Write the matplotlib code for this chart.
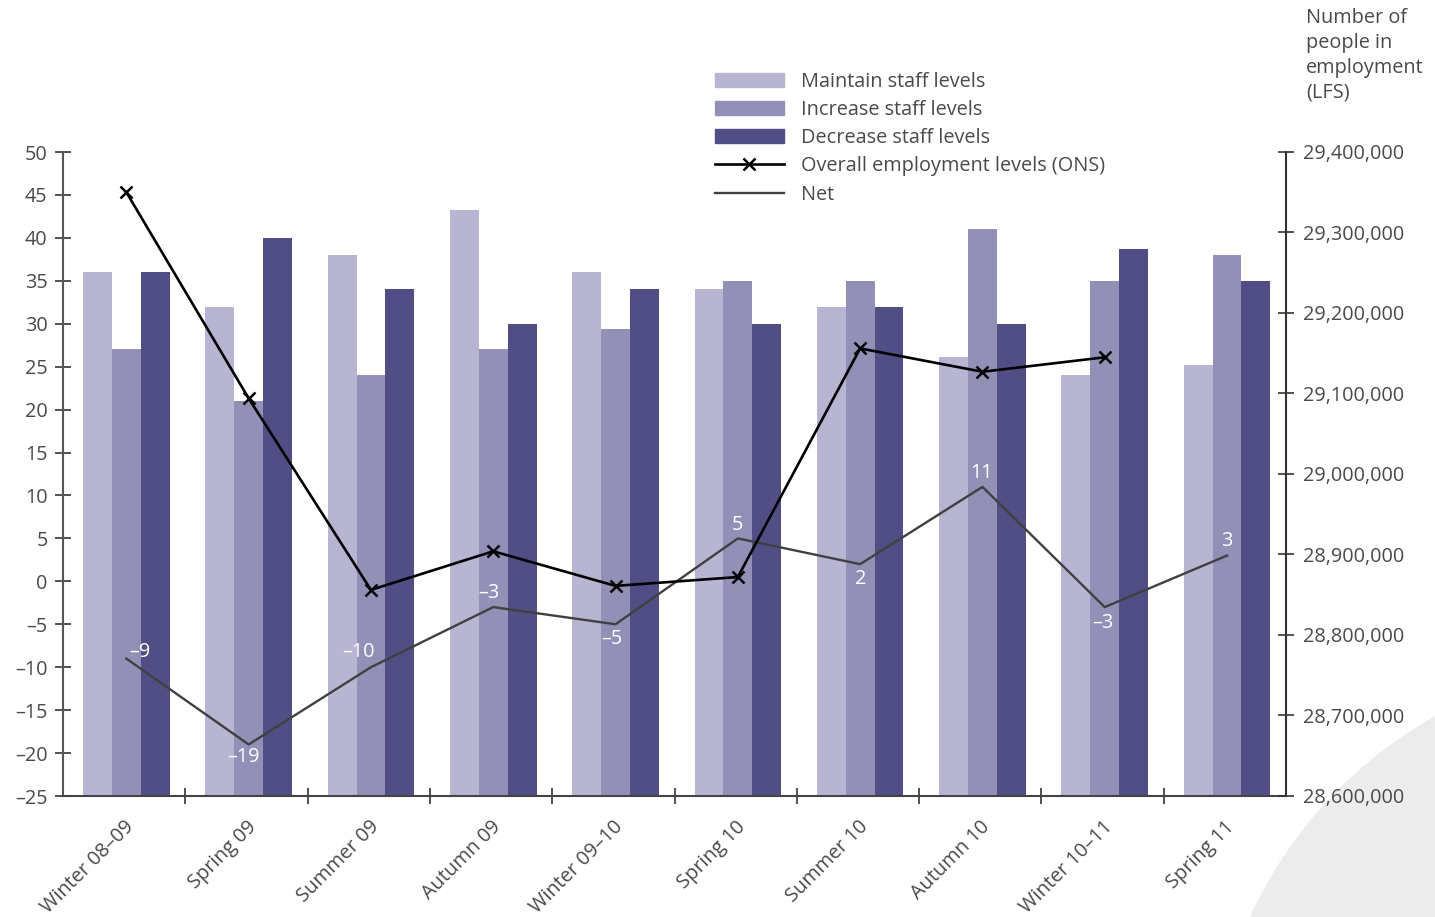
import matplotlib
matplotlib.use("Agg")
import matplotlib.pyplot as plt
import numpy as np
from matplotlib.patches import Ellipse, Patch
from matplotlib.lines import Line2D
from matplotlib.ticker import FuncFormatter, MultipleLocator

plt.rcParams['font.family'] = ['Open Sans', 'DejaVu Sans']

categories = ["Winter 08\u201309", "Spring 09", "Summer 09", "Autumn 09", "Winter 09\u201310",
              "Spring 10", "Summer 10", "Autumn 10", "Winter 10\u201311", "Spring 11"]
maintain = [36, 32, 38, 43.2, 36, 34, 32, 26.1, 24, 25.2]
increase = [27, 21, 24, 27, 29.4, 35, 35, 41, 35, 38]
decrease = [36, 40, 34, 30, 34, 30, 32, 30, 38.7, 35]
net = [-9, -19, -10, -3, -5, 5, 2, 11, -3, 3]
ons = [29350000, 29094000, 28856000, 28904000, 28861000, 28872000, 29156000, 29127000, 29145000]

net_label_offsets = [(14, 7), (-5, -13), (-12, 15), (-4, 14), (-4, -15),
                     (0, 13), (1, -15), (-1, 14), (-2, -16), (0, 15)]

c_maint = "#b8b5d2"
c_inc = "#9390b7"
c_dec = "#514e85"
txt = "#4a4a4a"
FS = 14.3

W, H = 1435, 917
fig = plt.figure(figsize=(W / 100, H / 100), dpi=100)

# background decorative circle
circ = Ellipse((1650 / W, -183 / H), 2 * 440 / W, 2 * 440 / H,
               transform=fig.transFigure, facecolor="#ececec", edgecolor="none")
circ.set_zorder(-10)
fig.add_artist(circ)

ax = fig.add_axes([63 / W, 1 - 796 / H, (1286 - 63) / W, (796 - 152) / H])
ax.patch.set_alpha(0)
x = np.arange(len(categories))
bw = 0.236
sh = 0.018
base = -25
ax.bar(x + sh - bw, np.array(maintain) - base, bw, bottom=base, color=c_maint, zorder=2)
ax.bar(x + sh, np.array(increase) - base, bw, bottom=base, color=c_inc, zorder=2)
ax.bar(x + sh + bw, np.array(decrease) - base, bw, bottom=base, color=c_dec, zorder=2)

ax.set_xlim(-0.5, len(categories) - 0.5)
ax.set_ylim(-25, 50)
ax.yaxis.set_major_locator(MultipleLocator(5))
ax.yaxis.set_major_formatter(FuncFormatter(lambda v, p: f"{int(v)}".replace("-", "\u2013")))

ax.plot(x + sh, net, color="#404040", lw=1.7, zorder=4)
for xi, v, (dx, dy) in zip(x, net, net_label_offsets):
    ax.annotate(f"{v}".replace("-", "\u2013"), (xi + sh, v), xytext=(dx * 0.72, dy * 0.72),
                textcoords="offset points", ha="center", va="center",
                color="white", fontsize=FS, zorder=5)

ax.set_xticks(x)
ax.set_xticklabels(categories, rotation=45, ha="right", va="top",
                   rotation_mode="anchor", fontsize=FS, color=txt)
ax.set_xticks(np.arange(0.5, len(categories) - 1, 1.0), minor=True)
ax.tick_params(axis="x", which="major", length=0, pad=15)
ax.tick_params(axis="x", which="minor", direction="inout", length=12, width=1.2, color="#333333")
ax.tick_params(axis="y", direction="inout", length=12, width=1.2, color="#333333",
               labelsize=FS, labelcolor=txt, pad=5)

for s in ["top", "right"]:
    ax.spines[s].set_visible(False)
ax.spines["left"].set_color("#555555")
ax.spines["left"].set_linewidth(1.5)
ax.spines["bottom"].set_color("#444444")
ax.spines["bottom"].set_linewidth(1.5)

ax2 = ax.twinx()
ax2.set_ylim(28600000, 29400000)
ax2.yaxis.set_major_locator(MultipleLocator(100000))
ax2.yaxis.set_major_formatter(FuncFormatter(lambda v, p: f"{int(v):,}"))
ax2.plot(x[:len(ons)] + sh, ons, color="black", lw=1.9, marker="x", markersize=8,
         markeredgewidth=1.8, zorder=6)
for s in ["top", "left", "bottom"]:
    ax2.spines[s].set_visible(False)
ax2.spines["right"].set_color("#333333")
ax2.spines["right"].set_linewidth(1.5)
ax2.tick_params(axis="y", direction="inout", length=12, width=1.2, color="#333333",
                labelsize=FS, labelcolor=txt, pad=6)

fig.text(1306 / W, 1 - 8 / H, "Number of\npeople in\nemployment\n(LFS)", ha="left", va="top",
         fontsize=FS, color=txt, linespacing=1.33)

handles = [Patch(color=c_maint), Patch(color=c_inc), Patch(color=c_dec),
           Line2D([], [], color="black", lw=1.9, marker="x", markersize=8, markeredgewidth=1.8),
           Line2D([], [], color="#404040", lw=1.7)]
labels = ["Maintain staff levels", "Increase staff levels", "Decrease staff levels",
          "Overall employment levels (ONS)", "Net"]
leg = fig.legend(handles, labels, loc="upper left", bbox_to_anchor=(715 / W, 1 - 72 / H),
                 frameon=False, fontsize=FS, handlelength=3.45, handleheight=0.7,
                 handletextpad=0.9, labelspacing=0.41, borderpad=0, borderaxespad=0)
for t in leg.get_texts():
    t.set_color(txt)

fig.savefig("out.png", dpi=100)
